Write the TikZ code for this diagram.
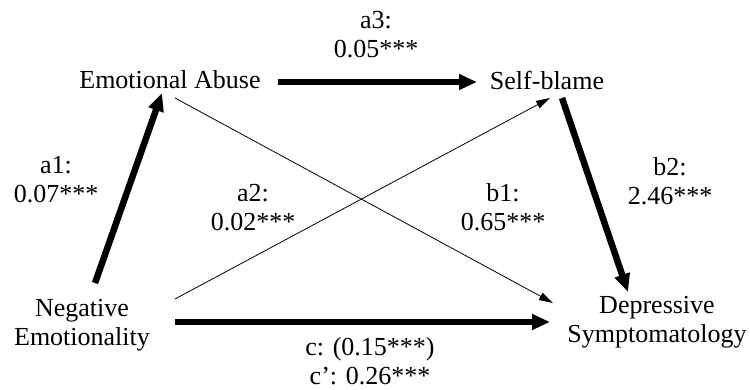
\documentclass[tikz,border=0pt]{standalone}
\usepackage{fontspec}
\setmainfont{Liberation Serif}
\usetikzlibrary{arrows.meta}
\begin{document}
\begin{tikzpicture}[x=1pt,y=-1pt,
  lbl/.style={inner sep=0pt, align=center, font=\fontsize{26}{29}\selectfont},
  thickarr/.style={line width=6.5pt, -{Triangle[length=18pt,width=15pt]}},
  thinarr/.style={line width=0.8pt, -{Triangle[length=14pt,width=8pt]}}]
\useasboundingbox (0,0) rectangle (750,390);
% variables
\node[lbl] (ea) at (170,80) {Emotional Abuse};
\node[lbl] (sb) at (547,80) {Self-blame};
\node[lbl] (ne) at (82,325) {Negative\\Emotionality};
\node[lbl] (ds) at (657,322) {Depressive\\Symptomatology};
% path labels
\node[lbl] (la1) at (56,180) {a1:\\0.07***};
\node[lbl] (la2) at (253,208) {a2:\\0.02***};
\node[lbl] (la3) at (376,35) {a3:\\0.05***};
\node[lbl] (lb1) at (503,207) {b1:\\0.65***};
\node[lbl] (lb2) at (670,181) {b2:\\2.46***};
\node[lbl] (lc) at (370,361) {c: (0.15***)\\c’: 0.26***};
% connectors
\draw[thickarr] ([shift={(13,-42)}]ne.center) -- ([shift={(-8,13)}]ea.center);
\draw[thickarr] ([shift={(108,2)}]ea.center) -- ([shift={(-70,2)}]sb.center);
\draw[thickarr] ([shift={(15,18)}]sb.center) -- ([shift={(-29,-30)}]ds.center);
\draw[thickarr] ([shift={(93,-3)}]ne.center) -- ([shift={(-107,0)}]ds.center);
\draw[thinarr] ([shift={(5,18)}]ea.center) -- ([shift={(-104,-19)}]ds.center);
\draw[thinarr] ([shift={(93,-26)}]ne.center) -- ([shift={(3,18)}]sb.center);
\end{tikzpicture}
\end{document}
